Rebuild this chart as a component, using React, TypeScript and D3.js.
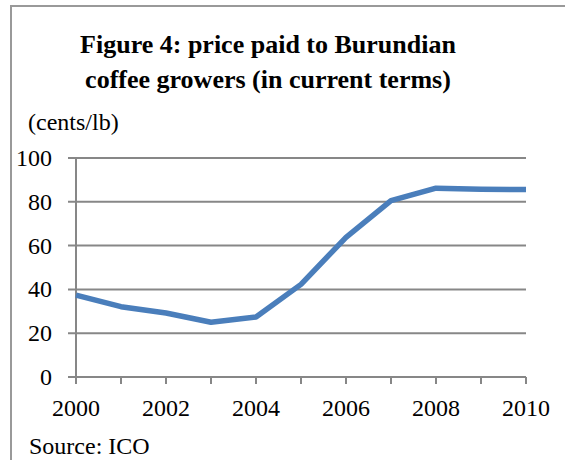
import React from "react";
import * as d3 from "d3";

const years = [2000, 2001, 2002, 2003, 2004, 2005, 2006, 2007, 2008, 2009, 2010];
const prices = [37.4, 32.1, 29.2, 25.0, 27.4, 42.3, 63.8, 80.5, 86.2, 85.7, 85.6];
const yTicks = [0, 20, 40, 60, 80, 100];
const xLabelYears = [2000, 2002, 2004, 2006, 2008, 2010];
const titleLines = ["Figure 4: price paid to Burundian", "coffee growers (in current terms)"];
const unitLabel = "(cents/lb)";
const sourceLabel = "Source: ICO";

const W = 565;
const H = 460;
const FONT = "'Liberation Serif', 'Times New Roman', serif";

export default function App() {
  const x = d3.scaleLinear().domain([2000, 2010]).range([76, 526]);
  const y = d3.scaleLinear().domain([0, 100]).range([377, 158]);
  const line = d3
    .line<number>()
    .x((_, i) => x(years[i]))
    .y((d) => y(d));

  return (
    <div style={{ position: "fixed", left: 0, top: 0 }}>
      <svg width={W} height={H} style={{ display: "block", background: "#fff" }}>
        <rect x={11} y={6} width={W + 20} height={H + 20} fill="#fff" stroke="#999" strokeWidth={2} />
        {titleLines.map((t, i) => (
          <text
            key={i}
            x={268}
            y={53 + i * 35}
            textAnchor="middle"
            fontFamily={FONT}
            fontWeight="bold"
            fontSize={26}
            fill="#000"
          >
            {t}
          </text>
        ))}
        <text x={28} y={130} fontFamily={FONT} fontSize={24} fill="#000">
          {unitLabel}
        </text>
        {yTicks.map((v) => (
          <g key={v}>
            <line x1={68} x2={526} y1={y(v)} y2={y(v)} stroke="#878787" strokeWidth={2} />
            <text x={52} y={y(v) + 8} textAnchor="end" fontFamily={FONT} fontSize={24} fill="#000">
              {v}
            </text>
          </g>
        ))}
        <line x1={x(2000)} x2={x(2000)} y1={y(100)} y2={y(0) + 7} stroke="#878787" strokeWidth={2} />
        {years.map((yr) => (
          <line key={yr} x1={x(yr)} x2={x(yr)} y1={y(0)} y2={y(0) + 7} stroke="#878787" strokeWidth={2} />
        ))}
        {xLabelYears.map((yr) => (
          <text key={yr} x={x(yr)} y={416} textAnchor="middle" fontFamily={FONT} fontSize={24} fill="#000">
            {yr}
          </text>
        ))}
        <path d={line(prices) || ""} fill="none" stroke="#4a7ebb" strokeWidth={5.5} strokeLinejoin="round" />
        <text x={29} y={454} fontFamily={FONT} fontSize={24} fill="#000">
          {sourceLabel}
        </text>
      </svg>
    </div>
  );
}
